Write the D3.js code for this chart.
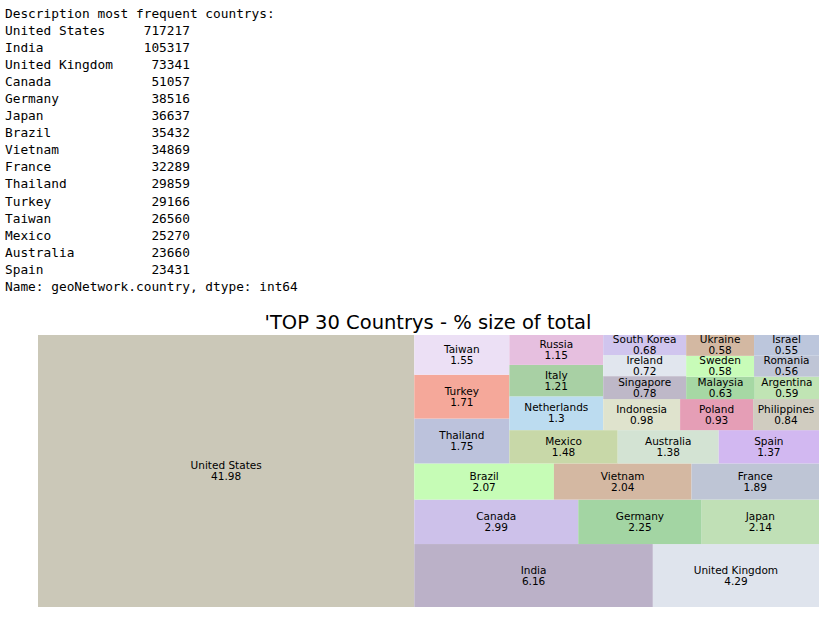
<!DOCTYPE html>
<html><head><meta charset="utf-8">
<script src="https://cdn.jsdelivr.net/npm/d3@7"></script>
<style>
body{margin:0;background:#fff;}
pre{margin:0;position:absolute;left:5px;top:5px;font-family:"DejaVu Sans Mono",monospace;font-size:12.8px;line-height:17.05px;color:#000;}
svg{position:absolute;left:0;top:0;}
</style></head>
<body>
<pre id="out"></pre>
<svg id="chart" width="830" height="619"></svg>
<script>
// printed value counts
var topNames = ["United States","India","United Kingdom","Canada","Germany","Japan","Brazil","Vietnam","France","Thailand","Turkey","Taiwan","Mexico","Australia","Spain"];
var topCounts = [717217,105317,73341,51057,38516,36637,35432,34869,32289,29859,29166,26560,25270,23660,23431];

// treemap: top 30 countries, % of total
var countries = ["United States","India","United Kingdom","Canada","Germany","Japan","Brazil","Vietnam","France","Thailand",
  "Turkey","Taiwan","Mexico","Australia","Spain","Netherlands","Italy","Russia","Indonesia","Poland",
  "Philippines","Singapore","Ireland","South Korea","Malaysia","Argentina","Sweden","Ukraine","Romania","Israel"];
var percents = [41.98,6.16,4.29,2.99,2.25,2.14,2.07,2.04,1.89,1.75,1.71,1.55,1.48,1.38,1.37,1.3,1.21,1.15,0.98,0.93,
  0.84,0.78,0.72,0.68,0.63,0.59,0.58,0.58,0.56,0.55];
var colors = ["#cbc8b8","#bbb1c8","#dfe4ed","#cdc1ea","#a3d5a3","#c0e0b6","#c6fcb6","#d4b8a2","#bec5d5","#bcc2dc",
  "#f5a89a","#ece0f5","#c8d8a8","#d3e3d3","#d2b8f1","#bcdcf0","#a8d0a4","#e6bfdf","#dfe3cd","#e59eb6",
  "#d0ccc0","#beb8c8","#e1e6ee","#d0c5ee","#a6d8a4","#c0e4b4","#c8fcb8","#d3b8a2","#bfc5d6","#bcc6dc"];

// text printout
var lines = ["Description most frequent countrys:"];
topNames.forEach(function(n, i) {
  var c = String(topCounts[i]);
  lines.push(n + " ".repeat(Math.max(1, 24 - n.length - c.length)) + c);
});
lines.push("Name: geoNetwork.country, dtype: int64");
document.getElementById("out").textContent = lines.join("\n");

// squarify (same algorithm as the python package)
function layoutrow(s, x, y, dx, dy) {
  var w = d3.sum(s) / dy, r = [];
  s.forEach(function(v) { r.push({x: x, y: y, dx: w, dy: v / w}); y += v / w; });
  return r;
}
function layoutcol(s, x, y, dx, dy) {
  var h = d3.sum(s) / dx, r = [];
  s.forEach(function(v) { r.push({x: x, y: y, dx: v / h, dy: h}); x += v / h; });
  return r;
}
function layout(s, x, y, dx, dy) { return dx >= dy ? layoutrow(s, x, y, dx, dy) : layoutcol(s, x, y, dx, dy); }
function leftover(s, x, y, dx, dy) {
  if (dx >= dy) { var w = d3.sum(s) / dy; return [x + w, y, dx - w, dy]; }
  var h = d3.sum(s) / dx; return [x, y + h, dx, dy - h];
}
function worst(s, x, y, dx, dy) {
  return d3.max(layout(s, x, y, dx, dy), function(r) { return Math.max(r.dx / r.dy, r.dy / r.dx); });
}
function squarify(s, x, y, dx, dy) {
  if (s.length == 0) return [];
  if (s.length == 1) return layout(s, x, y, dx, dy);
  var i = 1;
  while (i < s.length && worst(s.slice(0, i), x, y, dx, dy) >= worst(s.slice(0, i + 1), x, y, dx, dy)) i++;
  var lo = leftover(s.slice(0, i), x, y, dx, dy);
  return layout(s.slice(0, i), x, y, dx, dy).concat(squarify(s.slice(i), lo[0], lo[1], lo[2], lo[3]));
}

var total = d3.sum(percents);
var norm = percents.map(function(v) { return v * 10000 / total; });
var rects = squarify(norm, 0, 0, 100, 100);

var svg = d3.select("#chart");
var xs = d3.scaleLinear().domain([0, 100]).range([38, 819]);
var ys = d3.scaleLinear().domain([0, 100]).range([607, 335]);

svg.append("text").attr("x", 428).attr("y", 329).attr("text-anchor", "middle")
  .style("font-family", "DejaVu Sans").style("font-size", "19.5px").text("'TOP 30 Countrys - % size of total");

var cell = svg.selectAll("g.cell").data(rects).enter().append("g").attr("class", "cell");
cell.append("rect")
  .attr("x", function(d) { return xs(d.x); })
  .attr("y", function(d) { return ys(d.y + d.dy); })
  .attr("width", function(d) { return xs(d.x + d.dx) - xs(d.x); })
  .attr("height", function(d) { return ys(d.y) - ys(d.y + d.dy); })
  .attr("fill", function(d, i) { return colors[i]; });
var lbl = cell.append("text")
  .attr("text-anchor", "middle")
  .style("font-family", "DejaVu Sans").style("font-size", "10.5px");
lbl.append("tspan")
  .attr("x", function(d) { return xs(d.x + d.dx / 2); })
  .attr("y", function(d) { return ys(d.y + d.dy / 2) - 2; })
  .text(function(d, i) { return countries[i]; });
lbl.append("tspan")
  .attr("x", function(d) { return xs(d.x + d.dx / 2); })
  .attr("y", function(d) { return ys(d.y + d.dy / 2) + 9; })
  .text(function(d, i) { return percents[i]; });
</script>
</body></html>
